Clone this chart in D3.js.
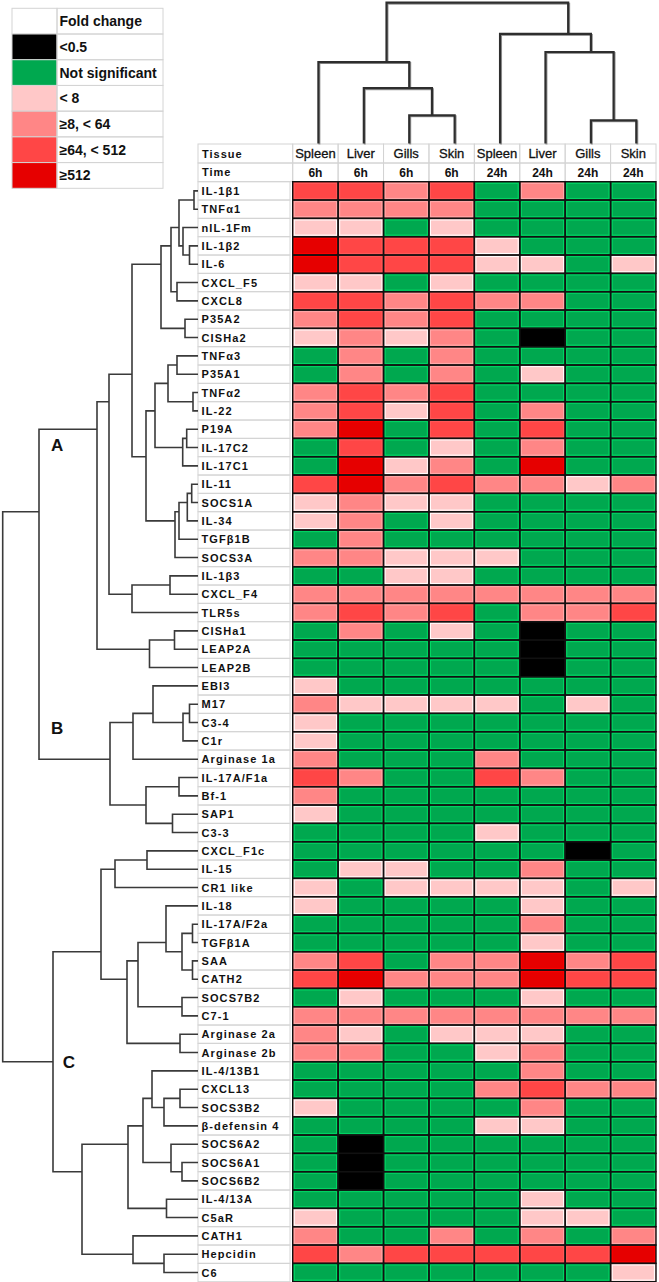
<!DOCTYPE html>
<html>
<head>
<meta charset="utf-8">
<script src="https://cdn.jsdelivr.net/npm/d3@7"></script>
<style>
body { margin: 0; background: #fff; }
svg { display: block; font-family: "Liberation Sans", Arial, sans-serif; }
</style>
</head>
<body>
<div id="chart"></div>
<script>
var tissues = ["Spleen", "Liver", "Gills", "Skin", "Spleen", "Liver", "Gills", "Skin"];
var times = ["6h", "6h", "6h", "6h", "24h", "24h", "24h", "24h"];

var genes = ["IL-1β1", "TNFα1", "nIL-1Fm", "IL-1β2", "IL-6", "CXCL_F5", "CXCL8", "P35A2", "CISHa2",
  "TNFα3", "P35A1", "TNFα2", "IL-22", "P19A", "IL-17C2", "IL-17C1", "IL-11", "SOCS1A", "IL-34",
  "TGFβ1B", "SOCS3A", "IL-1β3", "CXCL_F4", "TLR5s", "CISHa1", "LEAP2A", "LEAP2B", "EBI3", "M17",
  "C3-4", "C1r", "Arginase 1a", "IL-17A/F1a", "Bf-1", "SAP1", "C3-3", "CXCL_F1c", "IL-15",
  "CR1 like", "IL-18", "IL-17A/F2a", "TGFβ1A", "SAA", "CATH2", "SOCS7B2", "C7-1", "Arginase 2a",
  "Arginase 2b", "IL-4/13B1", "CXCL13", "SOCS3B2", "β-defensin 4", "SOCS6A2", "SOCS6A1",
  "SOCS6B2", "IL-4/13A", "C5aR", "CATH1", "Hepcidin", "C6"];

// 0 = <0.5, 1 = not significant, 2 = <8, 3 = 8-64, 4 = 64-512, 5 = >=512
var foldLevels = [
  [4,4,3,4,1,3,1,1], [3,3,3,3,1,1,1,1], [2,2,1,2,1,1,1,1], [5,4,4,4,2,1,1,1],
  [5,4,4,4,2,2,1,2], [2,2,1,2,1,1,1,1], [4,4,3,4,3,3,1,1], [3,4,3,4,1,1,1,1],
  [2,3,2,3,1,0,1,1], [1,3,1,3,1,1,1,1], [1,3,1,3,1,2,1,1], [3,4,3,4,1,1,1,1],
  [3,4,2,4,1,3,1,1], [3,5,1,4,1,4,1,1], [1,4,1,2,1,3,1,1], [1,5,2,3,1,5,1,1],
  [4,5,3,4,3,3,2,3], [2,3,2,2,1,1,1,1], [2,3,1,2,1,1,1,1], [1,3,1,1,1,1,1,1],
  [3,3,2,2,2,1,1,1], [1,1,2,2,1,1,1,1], [3,3,3,3,3,3,3,3], [3,4,3,4,1,3,3,4],
  [1,3,1,2,1,0,1,1], [1,1,1,1,1,0,1,1], [1,1,1,1,1,0,1,1], [2,1,1,1,1,1,1,1],
  [3,2,2,2,2,1,2,1], [2,1,1,1,1,1,1,1], [2,1,1,1,1,1,1,1], [3,1,1,1,3,1,1,1],
  [4,3,1,1,4,3,1,1], [3,1,1,1,1,1,1,1], [2,1,1,1,1,1,1,1], [1,1,1,1,2,1,1,1],
  [1,1,1,1,1,1,0,1], [1,2,2,1,1,3,1,1], [2,1,2,2,2,2,1,2], [2,1,1,1,1,2,1,1],
  [1,1,1,1,1,3,1,1], [1,1,1,1,1,2,1,1], [3,4,1,3,3,5,3,4], [4,5,3,3,3,5,4,4],
  [1,2,1,1,1,2,1,1], [3,3,3,3,3,3,3,3], [3,2,1,2,2,2,1,1], [3,3,1,1,2,3,1,1],
  [1,1,1,1,1,3,1,1], [1,1,1,1,3,4,3,3], [2,1,1,1,1,3,1,1], [1,1,1,1,2,2,1,1],
  [1,0,1,1,1,1,1,1], [1,0,1,1,1,1,1,1], [1,0,1,1,1,1,1,1], [1,1,1,1,1,2,1,1],
  [2,1,1,1,1,2,2,1], [3,1,1,3,1,3,1,3], [4,3,4,4,4,4,4,5], [1,1,1,1,1,1,1,2]
];

var legendTitle = "Fold change";
var legendLabels = ["<0.5", "Not significant", "< 8", "≥8,  < 64", "≥64,  < 512", "≥512"];
var legendLevels = [0, 1, 2, 3, 4, 5];

// trees: [height, left, right], leaves are column index / gene name
var colTree = [140, [81, 0, [55, 1, [28, 2, 3]]], [109, 4, [91, 5, [23, 6, 7]]]];

var clusterA = [101,
  [89,
    [66,
      [37,
        [27,
          [19, [4, "IL-1β1", "TNFα1"], [15, "nIL-1Fm", [8.5, "IL-1β2", "IL-6"]]],
          [21, "CXCL_F5", "CXCL8"]],
        [13, "P35A2", "CISHa2"]],
      [52,
        [43,
          [30, [21, "TNFα3", "P35A1"], [5, "TNFα2", "IL-22"]],
          [15.3, [11.3, "P19A", "IL-17C2"], "IL-17C1"]],
        [23, [19, [10.7, [6.3, "IL-11", "SOCS1A"], "IL-34"], "TGFβ1B"], "SOCS3A"]]],
    [66, [28, "IL-1β3", "CXCL_F4"], "TLR5s"]],
  [48.5, [23.5, "CISHa1", "LEAP2A"], "LEAP2B"]];

var clusterB = [88,
  [65, [45, "EBI3", [15, [8.5, "M17", "C3-4"], "C1r"]], "Arginase 1a"],
  [52, [19, "IL-17A/F1a", "Bf-1"], [25.5, "SAP1", "C3-3"]]];

var clusterC = [145,
  [97,
    [83, [51, "CXCL_F1c", "IL-15"], "CR1 like"],
    [71,
      [60,
        [32, "IL-18", [16, [5.5, "IL-17A/F2a", "TGFβ1A"], [5.5, "SAA", "CATH2"]]],
        [16, "SOCS7B2", "C7-1"]],
      [18, "Arginase 2a", "Arginase 2b"]]],
  [116,
    [70,
      [55,
        [46, "IL-4/13B1", [34, [18, "CXCL13", "SOCS3B2"], "β-defensin 4"]],
        [27, "SOCS6A2", [16, "SOCS6A1", "SOCS6B2"]]],
      [31.5, "IL-4/13A", "C5aR"]],
    [65, "CATH1", [34, "Hepcidin", "C6"]]]];

var rowTree = [195.3, [159, clusterA, clusterB], clusterC];
var clusterNames = ["A", "B", "C"];

var W = 659, H = 1282;

var svg = d3.select("#chart").append("svg")
  .attr("width", W)
  .attr("height", H);

var x = d3.scaleBand().domain(d3.range(tissues.length)).range([292.7, 656]);
var y = d3.scaleBand().domain(genes).range([181.7, 1281.7]);
var color = d3.scaleOrdinal()
  .domain([0, 1, 2, 3, 4, 5])
  .range(["#000000", "#00a84f", "#ffc8c8", "#ff8686", "#ff4646", "#e60000"]);

// ---- legend
var ly = d3.scaleBand().domain(d3.range(legendLabels.length + 1)).range([8.3, 188.3]);
var legend = svg.append("g");
legend.selectAll("rect.sw")
  .data(d3.range(legendLabels.length + 1))
  .enter().append("rect")
  .attr("class", "sw")
  .attr("x", 12).attr("y", function(d) { return ly(d); })
  .attr("width", 45).attr("height", ly.bandwidth())
  .attr("fill", function(d) { return d === 0 ? "#fff" : color(legendLevels[d - 1]); })
  .attr("stroke", "#d4d4d4");
legend.selectAll("rect.tx")
  .data(d3.range(legendLabels.length + 1))
  .enter().append("rect")
  .attr("class", "tx")
  .attr("x", 57).attr("y", function(d) { return ly(d); })
  .attr("width", 106).attr("height", ly.bandwidth())
  .attr("fill", "none")
  .attr("stroke", "#d4d4d4");
legend.selectAll("text")
  .data([legendTitle].concat(legendLabels))
  .enter().append("text")
  .attr("x", 59.5)
  .attr("y", function(d, i) { return ly(i) + ly.bandwidth() / 2 + 5; })
  .attr("font-size", 14).attr("font-weight", "bold")
  .attr("fill", "#111")
  .text(function(d) { return d; });

// ---- header table
var hdr = svg.append("g");
var hy = [144, 163, 181.7];
hdr.selectAll("rect.hl")
  .data([0, 1]).enter().append("rect")
  .attr("x", 198).attr("y", function(d) { return hy[d]; })
  .attr("width", 292.7 - 198).attr("height", function(d) { return hy[d + 1] - hy[d]; })
  .attr("fill", "none").attr("stroke", "#d4d4d4");
hdr.selectAll("rect.hc")
  .data(d3.cross(d3.range(tissues.length), [0, 1])).enter().append("rect")
  .attr("x", function(d) { return x(d[0]); }).attr("y", function(d) { return hy[d[1]]; })
  .attr("width", x.bandwidth()).attr("height", function(d) { return hy[d[1] + 1] - hy[d[1]]; })
  .attr("fill", "none").attr("stroke", "#d4d4d4");
hdr.selectAll("text.hlab")
  .data(["Tissue", "Time"]).enter().append("text")
  .attr("x", 202)
  .attr("y", function(d, i) { return (hy[i] + hy[i + 1]) / 2 + 4; })
  .attr("font-size", 11).attr("font-weight", "bold").attr("letter-spacing", 1)
  .attr("fill", "#111")
  .text(function(d) { return d; });
hdr.selectAll("text.tis")
  .data(tissues).enter().append("text")
  .attr("x", function(d, i) { return x(i) + x.bandwidth() / 2; })
  .attr("y", (hy[0] + hy[1]) / 2 + 4.5)
  .attr("text-anchor", "middle").attr("font-size", 13)
  .attr("fill", "#111").attr("stroke", "#111").attr("stroke-width", 0.3)
  .text(function(d) { return d; });
hdr.selectAll("text.tim")
  .data(times).enter().append("text")
  .attr("x", function(d, i) { return x(i) + x.bandwidth() / 2; })
  .attr("y", (hy[1] + hy[2]) / 2 + 4.5)
  .attr("text-anchor", "middle").attr("font-size", 12).attr("font-weight", "bold")
  .attr("fill", "#111")
  .text(function(d) { return d; });

// ---- row labels
var labels = svg.append("g");
labels.selectAll("rect")
  .data(genes).enter().append("rect")
  .attr("x", 198).attr("y", function(d) { return y(d); })
  .attr("width", 92).attr("height", y.bandwidth())
  .attr("fill", "none").attr("stroke", "#d4d4d4");
labels.selectAll("text")
  .data(genes).enter().append("text")
  .attr("x", 201.5)
  .attr("y", function(d) { return y(d) + y.bandwidth() / 2 + 4; })
  .attr("font-size", 11).attr("font-weight", "bold").attr("letter-spacing", 1.1)
  .attr("fill", "#111")
  .text(function(d) { return d; });

// ---- heatmap cells
var cells = [];
genes.forEach(function(g, i) {
  foldLevels[i].forEach(function(v, j) { cells.push({ gene: g, col: j, level: v }); });
});
var heat = svg.append("g");
heat.selectAll("rect.cell")
  .data(cells).enter().append("rect")
  .attr("class", "cell")
  .attr("x", function(d) { return x(d.col); })
  .attr("y", function(d) { return y(d.gene); })
  .attr("width", x.bandwidth()).attr("height", y.bandwidth())
  .attr("fill", function(d) { return color(d.level); });
heat.selectAll("rect.glow")
  .data(cells.filter(function(d) { return d.level > 0; })).enter().append("rect")
  .attr("x", function(d) { return x(d.col) + 1.6; })
  .attr("y", function(d) { return y(d.gene) + 1.6; })
  .attr("width", x.bandwidth() - 3.2).attr("height", y.bandwidth() - 3.2)
  .attr("fill", "none")
  .attr("stroke", function(d) { return d3.color(color(d.level)).brighter(0.7); })
  .attr("stroke-width", 1);
heat.selectAll("rect.edge")
  .data(cells).enter().append("rect")
  .attr("x", function(d) { return x(d.col); })
  .attr("y", function(d) { return y(d.gene); })
  .attr("width", x.bandwidth()).attr("height", y.bandwidth())
  .attr("fill", "none").attr("stroke", "#111").attr("stroke-width", 1.4);

// ---- dendrograms
function treeOf(t) {
  return d3.hierarchy(t, function(d) { return Array.isArray(d) ? d.slice(1) : null; });
}
function hOf(n) { return n.children ? n.data[0] : 0; }

// row dendrogram (left)
var rootR = treeOf(rowTree);
var hx = d3.scaleLinear().domain([0, rowTree[0]]).range([198, 2.7]);
function rowPos(n) {
  var lv = n.leaves();
  return (y(lv[0].data) + y(lv[lv.length - 1].data)) / 2 + y.bandwidth() / 2;
}
var rowLinks = [];
rootR.each(function(n) {
  if (!n.children) return;
  var a = n.children[0], b = n.children[1];
  rowLinks.push("M" + hx(hOf(a)) + "," + rowPos(a) + "H" + hx(hOf(n)) +
    "V" + rowPos(b) + "H" + hx(hOf(b)));
});
svg.append("g").selectAll("path")
  .data(rowLinks).enter().append("path")
  .attr("d", function(d) { return d; })
  .attr("fill", "none").attr("stroke", "#3a3a3a").attr("stroke-width", 1.6);

// cluster letters, placed off the link that leads into each cluster
var tops = [rootR.children[0].children[0], rootR.children[0].children[1], rootR.children[1]];
var letterOff = [[12, 22], [12, -25], [60, 6]];
svg.append("g").selectAll("text")
  .data(tops).enter().append("text")
  .attr("x", function(d, i) { return hx(hOf(d.parent)) + letterOff[i][0]; })
  .attr("y", function(d, i) { return rowPos(d) + letterOff[i][1]; })
  .attr("font-size", 17).attr("font-weight", "bold").attr("fill", "#111")
  .text(function(d, i) { return clusterNames[i]; });

// column dendrogram (top)
var rootC = treeOf(colTree);
var vy = d3.scaleLinear().domain([0, colTree[0]]).range([143.5, 2.7]);
function colPos(n) {
  var lv = n.leaves();
  return (x(lv[0].data) + x(lv[lv.length - 1].data)) / 2 + x.bandwidth() / 2 + 3;
}
var colLinks = [];
rootC.each(function(n) {
  if (!n.children) return;
  var a = n.children[0], b = n.children[1];
  colLinks.push("M" + colPos(a) + "," + vy(hOf(a)) + "V" + vy(hOf(n)) +
    "H" + colPos(b) + "V" + vy(hOf(b)));
});
var cg = svg.append("g");
cg.selectAll("path.sh")
  .data(colLinks).enter().append("path")
  .attr("d", function(d) { return d; })
  .attr("transform", "translate(1,1)")
  .attr("fill", "none").attr("stroke", "#9a9a9a").attr("stroke-width", 2);
cg.selectAll("path.ln")
  .data(colLinks).enter().append("path")
  .attr("d", function(d) { return d; })
  .attr("fill", "none").attr("stroke", "#2e2e2e").attr("stroke-width", 2.2);
</script>
</body>
</html>
